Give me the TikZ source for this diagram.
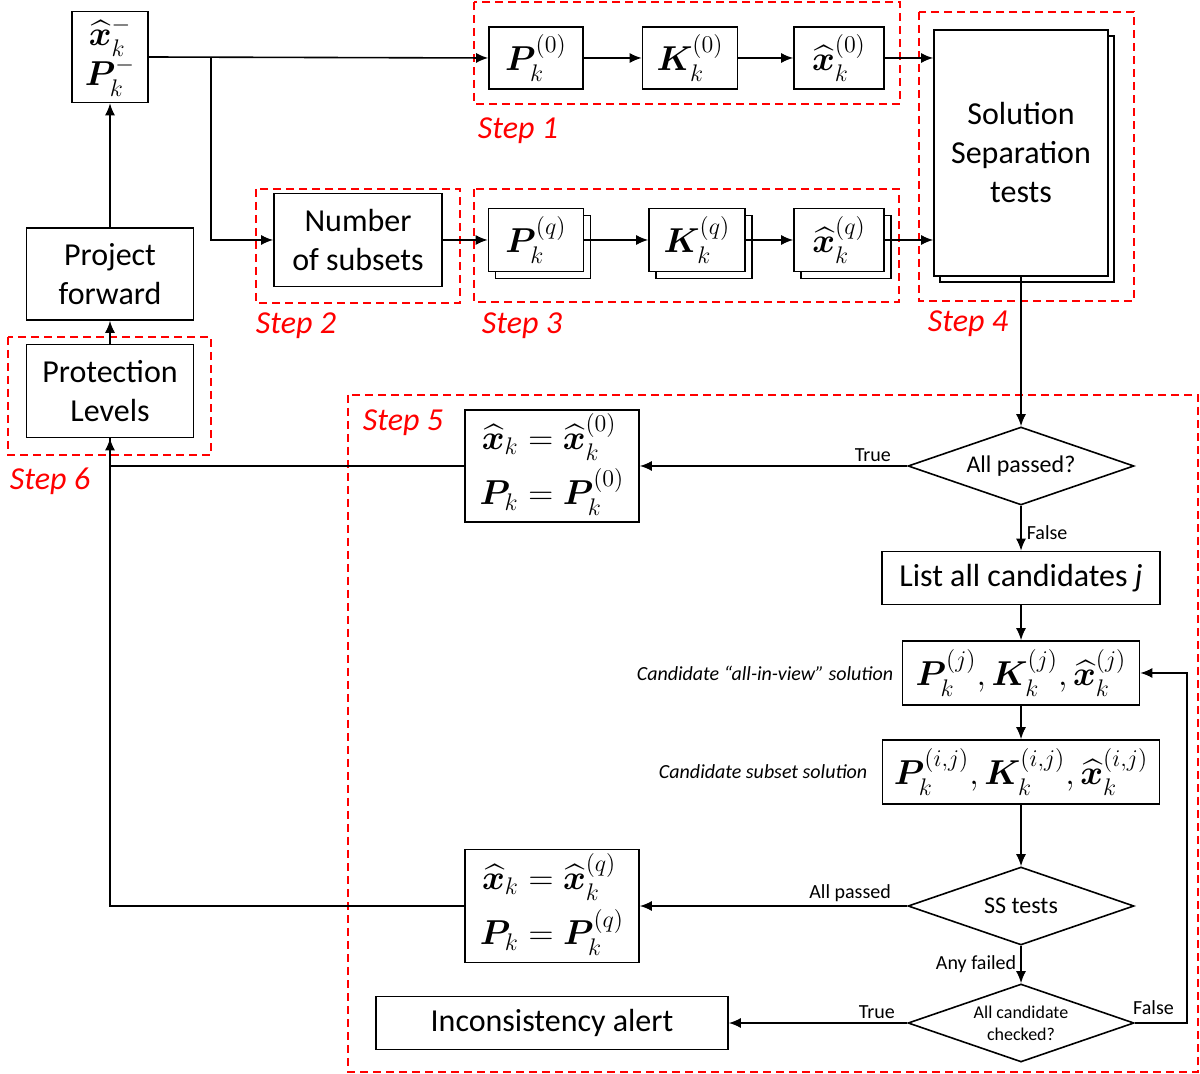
\documentclass[tikz,border=0pt]{standalone}
\usepackage{amsmath,bm}
\usepackage{fontspec}
\setmainfont{Carlito}
\usetikzlibrary{arrows.meta,shapes.geometric,shadows}

\begin{document}
\begin{tikzpicture}[x=0.5pt,y=-0.5pt,
    box/.style={draw,line width=0.8pt,fill=white,align=center,inner sep=1pt,font=\fontsize{16}{19.5}\selectfont},
    mbox/.style={box,font=\fontsize{18}{22}\selectfont},
    stackbox/.style={mbox,copy shadow={shadow xshift=3.5pt,shadow yshift=-3.5pt,draw=black,line width=0.8pt,fill=white}},
    decision/.style={diamond,draw,line width=0.8pt,aspect=2.9,inner sep=0pt,minimum width=113pt,minimum height=39pt,align=center,font=\fontsize{12}{14}\selectfont},
    stepzone/.style={draw=red,line width=0.8pt,dash pattern=on 4pt off 2.5pt},
    steplabel/.style={text=red,font=\fontsize{16}{19}\selectfont\itshape},
    flow/.style={line width=0.8pt,-{Latex[length=6pt,width=5pt]}},
    tag/.style={inner sep=1pt,font=\fontsize{10}{12}\selectfont}]
    \useasboundingbox (0,0) rectangle (1200,1074);

    %% step zones
    \draw[stepzone] (474,2) rectangle (900,104);
    \draw[stepzone] (256,189) rectangle (460,303);
    \draw[stepzone] (474,189) rectangle (899,302);
    \draw[stepzone] (919,12) rectangle (1134,301);
    \draw[stepzone] (348,395) rectangle (1198,1072);
    \draw[stepzone] (8,337) rectangle (211,455);
    \node[steplabel] (s1) at (518,131) {Step 1};
    \node[steplabel] (s2) at (296,326) {Step 2};
    \node[steplabel] (s3) at (522,326) {Step 3};
    \node[steplabel] (s4) at (968,324) {Step 4};
    \node[steplabel] (s5) at (403,423) {Step 5};
    \node[steplabel] (s6) at (50,481) {Step 6};

    %% prediction
    \node[mbox,minimum width=38pt,minimum height=45.5pt] (prior) at (110,57) {$\widehat{\bm{x}}_k^{-}$\\[-2pt]$\bm{P}_k^{-}$};
    \node[box,minimum width=83.5pt,minimum height=46pt] (proj) at (110,274) {Project\\forward};
    \node[box,minimum width=83.5pt,minimum height=46.5pt] (prot) at (110,391) {Protection\\Levels};
    \draw[flow] (proj.north) -- (prior.south);
    \draw[flow] (prot.north) -- (proj.south);

    %% all-in-view and subset filters
    \node[mbox,minimum width=47pt,minimum height=31pt] (P0) at (536,58) {$\bm{P}_k^{(0)}$};
    \node[mbox,minimum width=47.5pt,minimum height=31pt] (K0) at (690,58) {$\bm{K}_k^{(0)}$};
    \node[mbox,minimum width=45pt,minimum height=31pt] (X0) at (839,58) {$\widehat{\bm{x}}_k^{(0)}$};
    \node[box,minimum width=84pt,minimum height=46.5pt] (nsub) at (358,240) {Number\\of subsets};
    \node[stackbox,minimum width=47.5pt,minimum height=31.5pt] (Pq) at (536,240) {$\bm{P}_k^{(q)}$};
    \node[stackbox,minimum width=48pt,minimum height=31.5pt] (Kq) at (697,240) {$\bm{K}_k^{(q)}$};
    \node[stackbox,minimum width=45pt,minimum height=31.5pt] (Xq) at (839,240) {$\widehat{\bm{x}}_k^{(q)}$};
    \node[box,copy shadow={shadow xshift=3pt,shadow yshift=-3pt,draw=black,line width=0.8pt,fill=white},
        minimum width=87pt,minimum height=123pt] (sst) at (1021,153) {Solution\\Separation\\tests};
    \coordinate (br) at (211,57);
    \draw[flow] (prior.east) -- (P0.west);
    \draw[flow] (br) |- (nsub.west);
    \draw[flow] (P0) -- (K0);
    \draw[flow] (K0) -- (X0);
    \draw[flow] (X0.east) -- (X0.east -| sst.west);
    \draw[flow] (nsub) -- (Pq);
    \draw[flow] (Pq) -- (Kq);
    \draw[flow] (Kq) -- (Xq);
    \draw[flow] (Xq.east) -- (Xq.east -| sst.west);

    %% fault exclusion
    \node[decision] (dall) at (1021,466) {All passed?};
    \node[mbox,minimum width=87pt,minimum height=56pt] (res0) at (552,466)
        {$\begin{aligned}\widehat{\bm{x}}_k&=\widehat{\bm{x}}_k^{(0)}\\[-1pt]\bm{P}_k&=\bm{P}_k^{(0)}\end{aligned}$};
    \node[box,minimum width=139pt,minimum height=26.5pt] (list) at (1021,578) {List all candidates \textit{j}};
    \node[mbox,minimum width=118.5pt,minimum height=32pt] (cj) at (1021,673)
        {$\bm{P}_k^{(j)}, \bm{K}_k^{(j)}, \widehat{\bm{x}}_k^{(j)}$};
    \node[mbox,minimum width=138.5pt,minimum height=32pt] (cij) at (1021,772)
        {$\bm{P}_k^{(i,j)}, \bm{K}_k^{(i,j)}, \widehat{\bm{x}}_k^{(i,j)}$};
    \node[decision] (dss) at (1021,906) {SS tests};
    \node[mbox,minimum width=87pt,minimum height=56.5pt] (resq) at (552,906)
        {$\begin{aligned}\widehat{\bm{x}}_k&=\widehat{\bm{x}}_k^{(q)}\\[-1pt]\bm{P}_k&=\bm{P}_k^{(q)}\end{aligned}$};
    \node[decision,font=\fontsize{9}{11}\selectfont] (dchk) at (1021,1023) {All candidate\\checked?};
    \node[box,minimum width=176pt,minimum height=26.5pt] (alert) at (552,1023) {Inconsistency alert};
    \node[tag,anchor=east,font=\fontsize{10}{12}\selectfont\itshape] (lcj) at ([xshift=-3pt]cj.west) {Candidate “all-in-view” solution};
    \node[tag,anchor=east,font=\fontsize{10}{12}\selectfont\itshape] (lcij) at ([xshift=-6pt]cij.west) {Candidate subset solution};

    \draw[flow] (sst.south) -- (dall.north);
    \draw[flow] (dall.west) -- (res0.east);
    \node[tag,anchor=south east] (ttrue) at ([xshift=-7pt,yshift=1pt]dall.west) {True};
    \draw[line width=0.8pt] (resq.west) -| (prot.south);
    \draw[flow] (res0.west) -| (prot.south);
    \draw[flow] (dall.south) -- node[tag,right,pos=0.6,xshift=1.5pt] (tfalse) {False} (list.north);
    \draw[flow] (list) -- (cj);
    \draw[flow] (cj) -- (cij);
    \draw[flow] (cij) -- (dss);
    \draw[flow] (dss.west) -- (resq.east);
    \node[tag,anchor=south east] (tpass) at ([xshift=-7pt,yshift=1pt]dss.west) {All passed};
    \draw[flow] (dss.south) -- node[tag,left,xshift=-1pt] (tfail) {Any failed} (dchk.north);
    \draw[flow] (dchk.west) -- (alert.east);
    \node[tag,anchor=south east] (ttrue2) at ([xshift=-5pt,yshift=1pt]dchk.west) {True};
    \draw[flow] (dchk.east) -- ++(52,0) |- (cj.east);
    \node[tag,anchor=south west] (tfalse2) at ([xshift=-2pt,yshift=3pt]dchk.east) {False};
\end{tikzpicture}
\end{document}
